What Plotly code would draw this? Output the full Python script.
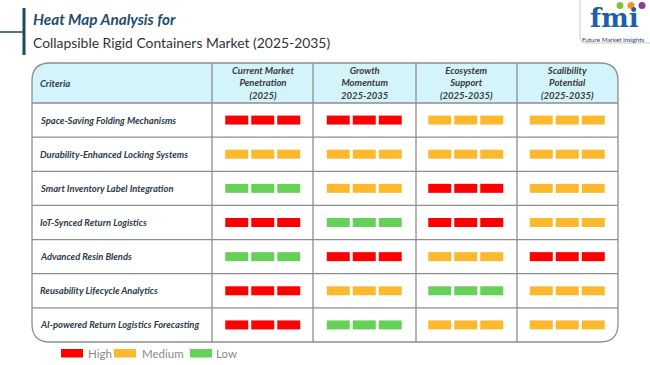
import plotly.graph_objects as go

W, H = 650, 365

criteria = [
    "Space-Saving Folding Mechanisms",
    "Durability-Enhanced Locking Systems",
    "Smart Inventory Label Integration",
    "IoT-Synced Return Logistics",
    "Advanced Resin Blends",
    "Reusability Lifecycle Analytics",
    "AI-powered Return Logistics Forecasting",
]
columns = [
    "Current Market<br>Penetration<br>(2025)",
    "Growth<br>Momentum<br>2025-2035",
    "Ecosystem<br>Support<br>(2025-2035)",
    "Scalibility<br>Potential<br>(2025-2035)",
]
current_market = ["High", "Medium", "Low", "High", "Low", "High", "High"]
growth_momentum = ["High", "Medium", "Medium", "Low", "High", "Medium", "Low"]
ecosystem_support = ["Medium", "Medium", "High", "High", "Medium", "Low", "Medium"]
scalability = ["Medium", "Medium", "Medium", "Medium", "High", "Medium", "Medium"]
levels = ["High", "Medium", "Low"]
level_colors = {"High": "#FF0000", "Medium": "#FDB92E", "Low": "#66D159"}

series = [current_market, growth_momentum, ecosystem_support, scalability]

# layout geometry (pixels)
TL, TR, TT, TB = 32, 618, 63, 342
HB = 103
COL_EDGES = [212, 313, 416, 517, 618]
R = 18

def px(x):
    return x / W

def py(y):
    return 1 - y / H

col_w = (COL_EDGES[-1] - COL_EDGES[0]) / 4.0
seg = 23 / col_w
gap = 3 / col_w
lead = (1 - (3 * seg + 2 * gap)) / 2
row_h = (TB - HB) / 7.0
thick = 9 / row_h

fig = go.Figure()
for lvl in levels:
    ys, xs, bases = [], [], []
    for c, col_vals in enumerate(series):
        for r, v in enumerate(col_vals):
            if v == lvl:
                for k in range(3):
                    ys.append(r)
                    xs.append(seg)
                    bases.append(c + lead + k * (seg + gap))
    fig.add_trace(go.Bar(
        x=xs, y=ys, base=bases, orientation="h", width=thick,
        marker=dict(color=level_colors[lvl], line=dict(width=0)),
        name=lvl, showlegend=False, hoverinfo="skip",
    ))

shapes = []
line_col = "#8E8E8E"
lw = 1.3

# header fill with rounded top corners
hdr_path = (
    f"M {px(TL)},{py(HB)} L {px(TL)},{py(TT+R)} Q {px(TL)},{py(TT)} {px(TL+R)},{py(TT)} "
    f"L {px(TR-R)},{py(TT)} Q {px(TR)},{py(TT)} {px(TR)},{py(TT+R)} L {px(TR)},{py(HB)} Z"
)
shapes.append(dict(type="path", xref="paper", yref="paper", path=hdr_path,
                   fillcolor="#D4F4FB", line=dict(width=0), layer="below"))

# outer border, rounded
outer = (
    f"M {px(TL)},{py(TT+R)} Q {px(TL)},{py(TT)} {px(TL+R)},{py(TT)} "
    f"L {px(TR-R)},{py(TT)} Q {px(TR)},{py(TT)} {px(TR)},{py(TT+R)} "
    f"L {px(TR)},{py(TB-R)} Q {px(TR)},{py(TB)} {px(TR-R)},{py(TB)} "
    f"L {px(TL+R)},{py(TB)} Q {px(TL)},{py(TB)} {px(TL)},{py(TB-R)} Z"
)
shapes.append(dict(type="path", xref="paper", yref="paper", path=outer,
                   line=dict(color=line_col, width=lw), fillcolor="rgba(0,0,0,0)"))

# vertical column lines
for x in COL_EDGES[:-1]:
    shapes.append(dict(type="line", xref="paper", yref="paper",
                       x0=px(x), x1=px(x), y0=py(TT), y1=py(TB),
                       line=dict(color=line_col, width=lw)))
# horizontal row lines
for i in range(7):
    y = HB + i * row_h
    shapes.append(dict(type="line", xref="paper", yref="paper",
                       x0=px(TL), x1=px(TR), y0=py(y), y1=py(y),
                       line=dict(color=line_col, width=lw)))

# title decoration lines
shapes.append(dict(type="line", xref="paper", yref="paper", x0=px(24), x1=px(24),
                   y0=py(8), y1=py(55), line=dict(color="#1D4A5C", width=3)))
shapes.append(dict(type="line", xref="paper", yref="paper", x0=px(0), x1=px(24),
                   y0=py(32), y1=py(32), line=dict(color="#1D4A5C", width=1.5)))

# logo box
logo = (
    f"M {px(580)},{py(-2)} L {px(580)},{py(36)} Q {px(580)},{py(43)} {px(587)},{py(43)} "
    f"L {px(652)},{py(43)}"
)
shapes.append(dict(type="path", xref="paper", yref="paper", path=logo,
                   line=dict(color="#C8C8C8", width=1)))
for cx, colr in [(620, "#7DC242"), (631, "#F7941D"), (642, "#8E3B8F")]:
    shapes.append(dict(type="circle", xref="paper", yref="paper",
                       x0=px(cx-3.5), x1=px(cx+3.5), y0=py(2), y1=py(9),
                       fillcolor=colr, line=dict(width=0)))

# custom legend swatches
leg_items = [("High", 61, 86), ("Medium", 114, 140), ("Low", 190, 214)]
annotations = []
for name, sx, tx in leg_items:
    shapes.append(dict(type="rect", xref="paper", yref="paper",
                       x0=px(sx), x1=px(sx+22), y0=py(349), y1=py(357.5),
                       fillcolor=level_colors[name], line=dict(width=0)))
    annotations.append(dict(x=px(tx), y=py(353.5), xref="paper", yref="paper",
                            text=name, showarrow=False, xanchor="left", yanchor="middle",
                            font=dict(family="Lato", size=11.5, color="#8A8A8A")))

# criteria text
for i, name in enumerate(criteria):
    yc = HB + (i + 0.5) * row_h
    annotations.append(dict(x=px(38), y=py(yc), xref="paper", yref="paper",
                            text=f"<b><i>{name}</i></b>", showarrow=False,
                            xanchor="left", yanchor="middle",
                            font=dict(family="Lato", size=9.4, color="#2B3B4A")))
annotations.append(dict(x=px(38), y=py((TT + HB) / 2), xref="paper", yref="paper",
                        text="<b><i>Criteria</i></b>", showarrow=False,
                        xanchor="left", yanchor="middle",
                        font=dict(family="Lato", size=9.5, color="#2B3B4A")))
for c, hdr in enumerate(columns):
    xc = (COL_EDGES[c] + COL_EDGES[c + 1]) / 2
    annotations.append(dict(x=px(xc), y=py((TT + HB) / 2), xref="paper", yref="paper",
                            text=f"<b><i>{hdr}</i></b>", showarrow=False,
                            xanchor="center", yanchor="middle", align="center",
                            font=dict(family="Lato", size=9.5, color="#3A3A3A")))

# titles
annotations.append(dict(x=px(31), y=py(19), xref="paper", yref="paper",
                        text="<b><i>Heat Map Analysis for</i></b>", showarrow=False,
                        xanchor="left", yanchor="middle",
                        font=dict(family="Lato", size=15.3, color="#1F4E6E")))
annotations.append(dict(x=px(31), y=py(43), xref="paper", yref="paper",
                        text="Collapsible Rigid Containers Market (2025-2035)", showarrow=False,
                        xanchor="left", yanchor="middle",
                        font=dict(family="Lato", size=13.9, color="#333333")))
# logo text
annotations.append(dict(x=px(614), y=py(18), xref="paper", yref="paper",
                        text="<b>fmi</b>", showarrow=False, xanchor="center", yanchor="middle",
                        font=dict(family="DejaVu Serif", size=26, color="#1F5FA8")))
annotations.append(dict(x=px(613), y=py(39.5), xref="paper", yref="paper",
                        text="Future Market Insights", showarrow=False, xanchor="center",
                        yanchor="middle", font=dict(family="Lato", size=6.3, color="#1F3F6F")))

fig.update_layout(
    width=W, height=H,
    margin=dict(l=0, r=0, t=0, b=0),
    paper_bgcolor="white", plot_bgcolor="rgba(0,0,0,0)",
    barmode="overlay",
    xaxis=dict(domain=[px(COL_EDGES[0]), px(COL_EDGES[-1])], range=[0, 4],
               showgrid=False, zeroline=False, showticklabels=False, fixedrange=True),
    yaxis=dict(domain=[py(TB), py(HB)], range=[6.5, -0.5],
               showgrid=False, zeroline=False, showticklabels=False, fixedrange=True),
    shapes=shapes,
    annotations=annotations,
    showlegend=False,
)

fig.write_html("out.html", config={"displayModeBar": False},
               post_script="document.body.style.margin='0';document.body.style.overflow='hidden';")
